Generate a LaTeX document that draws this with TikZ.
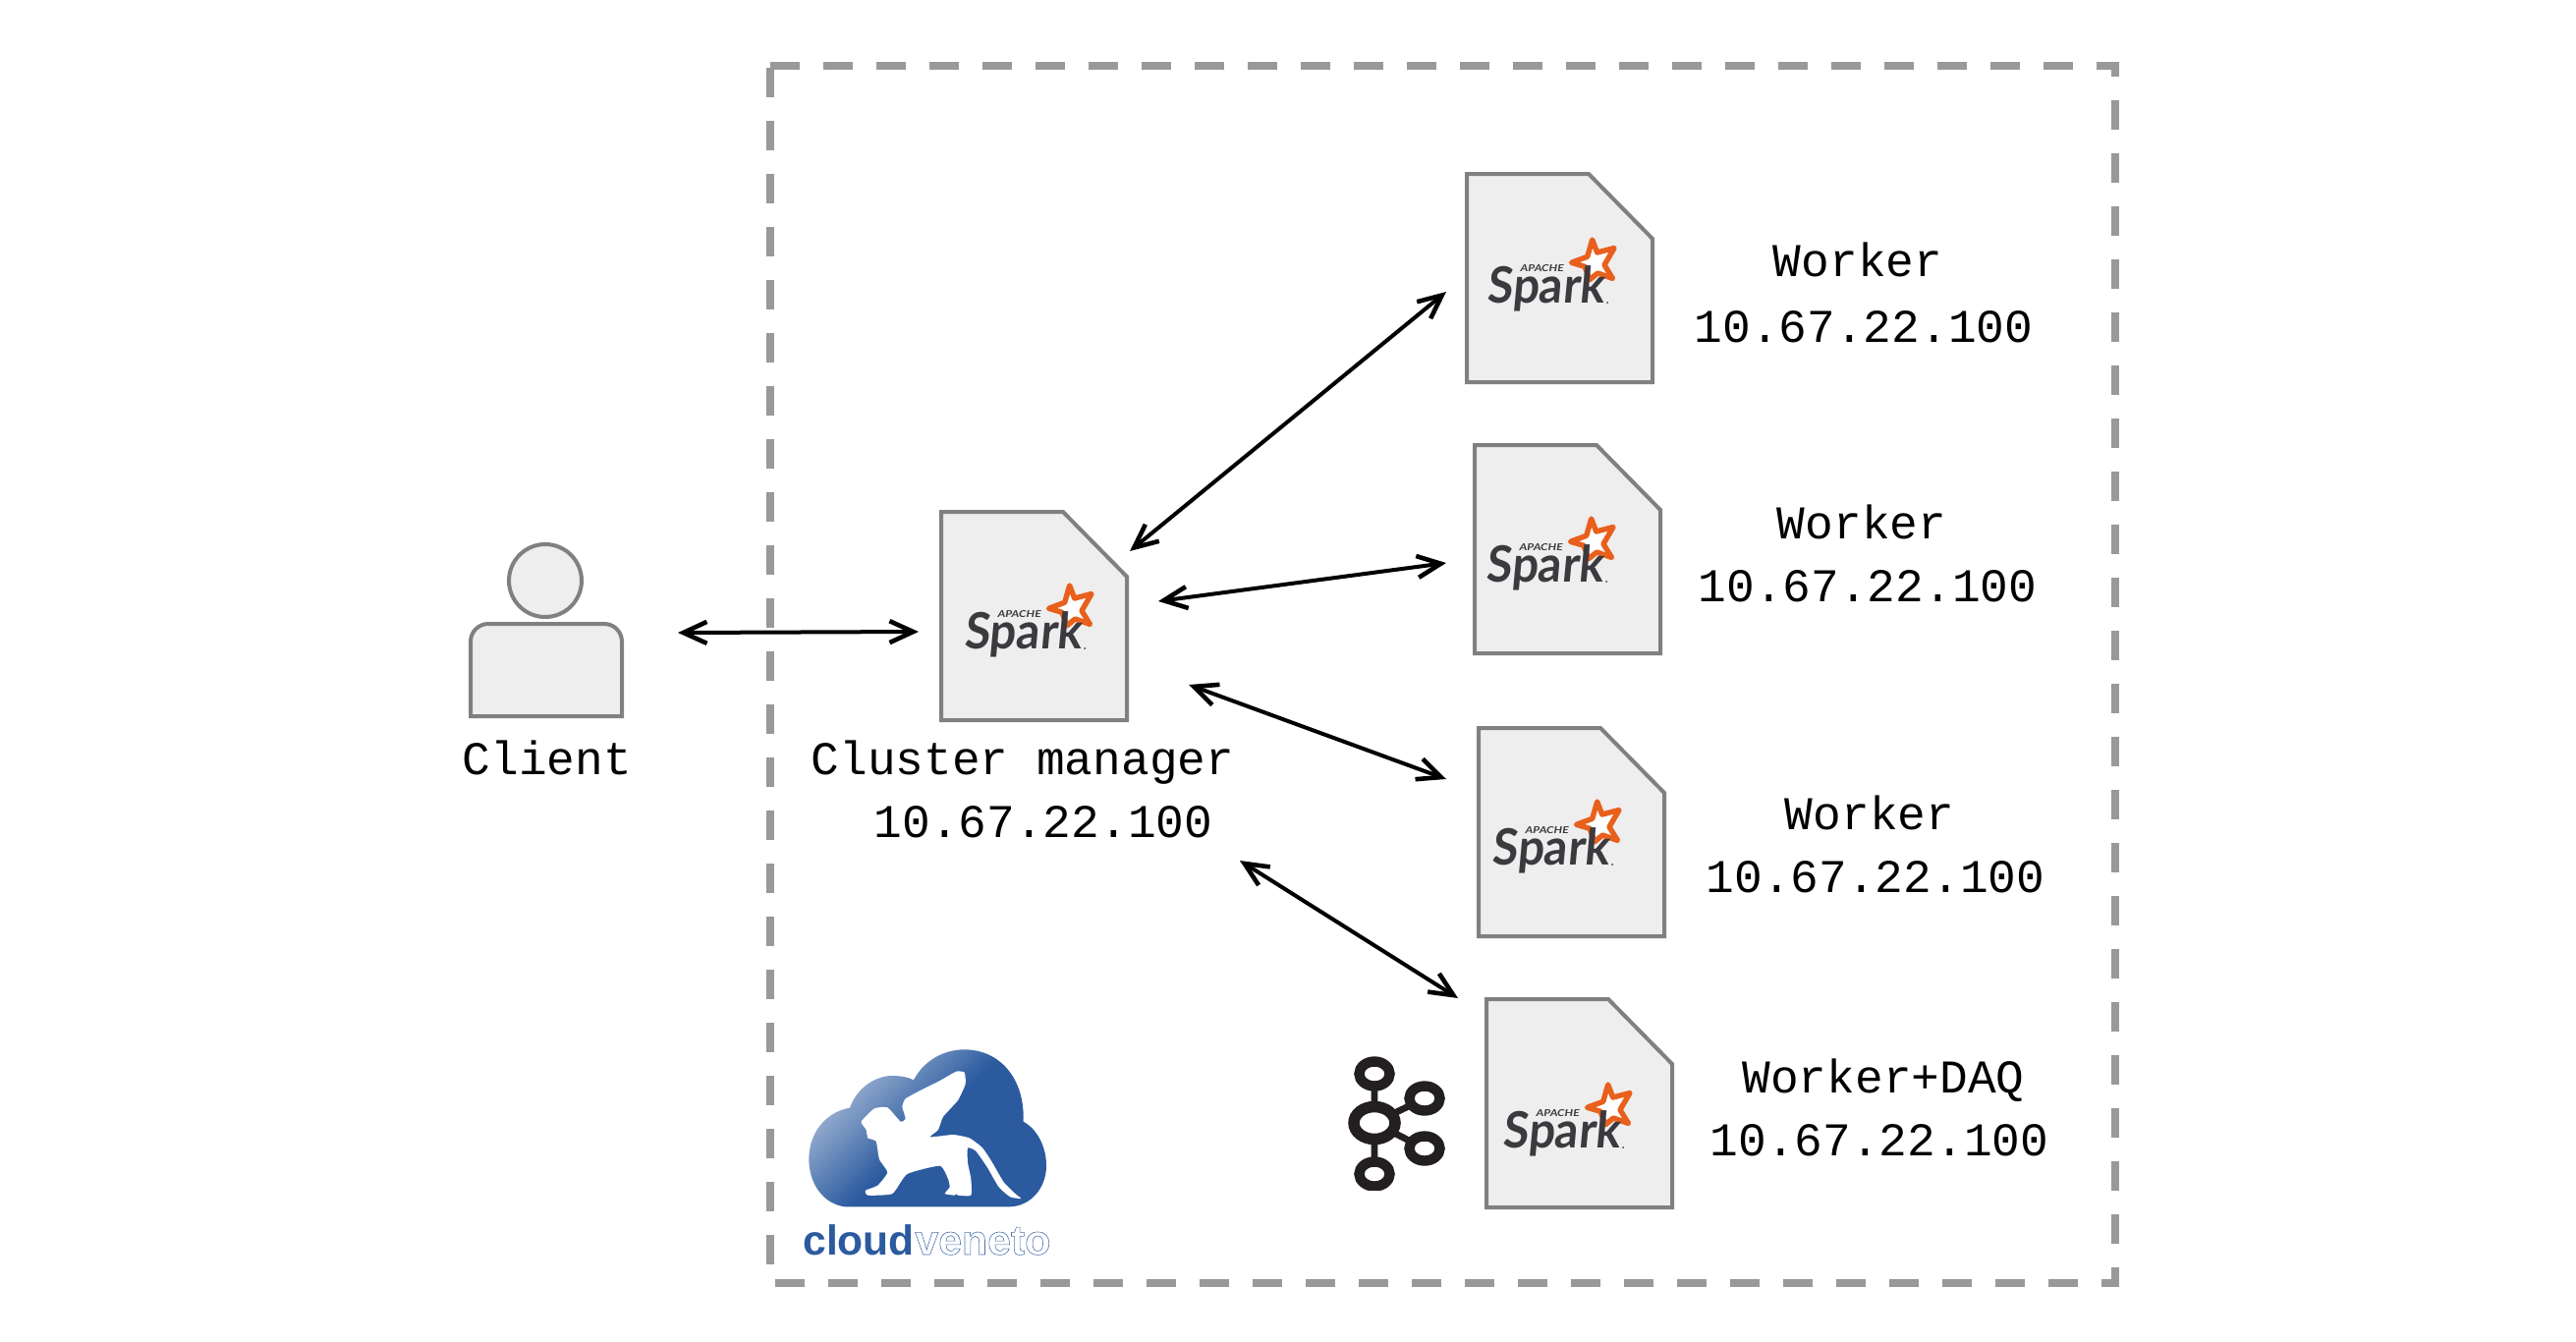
\documentclass[tikz,border=0pt]{standalone}
\usepackage{fontspec}
\setmonofont{Liberation Mono}
\newfontfamily\logofont{Lato}
\newfontfamily\cvfont{Liberation Sans}
\usetikzlibrary{arrows.meta}
\definecolor{boxgray}{HTML}{808080}
\definecolor{boxfill}{HTML}{EEEEEE}
\definecolor{dashgray}{HTML}{999999}
\definecolor{sparkink}{HTML}{3C3A3E}
\definecolor{sparkorange}{HTML}{E8601C}
\definecolor{cvblue}{HTML}{2B5A9F}
\definecolor{cvlight}{HTML}{8FA8CC}
\definecolor{kafkaink}{HTML}{231F20}
\pgfdeclarehorizontalshading{cvshade}{100bp}{color(0bp)=(cvlight); color(30bp)=(cvlight); color(50bp)=(cvblue); color(100bp)=(cvblue)}
\tikzset{
  notebox/.style={draw=boxgray,fill=boxfill,line width=2pt,miter limit=10},
  lbl/.style={font=\ttfamily\fontsize{23.9pt}{28pt}\selectfont,anchor=base,inner sep=0pt,text=black},
  link/.style={line width=2pt,black,{Straight Barb[length=12pt,width=11pt,line width=2.3pt]}-{Straight Barb[length=12pt,width=11pt,line width=2.3pt]}},
  sparkword/.style={font=\logofont\bfseries\fontsize{25.5pt}{25pt}\selectfont,text=sparkink,anchor=base west,inner sep=0pt,xscale=.93,xslant=.1},
  apacheword/.style={font=\logofont\bfseries\itshape\fontsize{4.8pt}{5pt}\selectfont,text=sparkink,anchor=base west,inner sep=0pt,xscale=1.25},
  ring/.style={draw=kafkaink,line width=5.2pt},
}
\newcommand{\sparkbox}[5]{%
  \begin{scope}[shift={(#2,#3)}]
    \path[notebox] (0,0) -- (124,0) -- (189,66) -- (189,212) -- (0,212) -- cycle;
    \begin{scope}[shift={(#4,#5)}]
      \draw[sparkorange,line width=2.7pt,line join=round,fill=white]
        (130.7,75) -- (135.7,88) -- (153,83.5) -- (143,100.7) -- (151.5,114.5) -- (136.3,109) -- (128,115.7) -- (123,102.3) -- (109.5,98.3) -- (125.7,92.3) -- cycle;
      \node[sparkword] (#1) at (23,139) {Spark};
      \node[apacheword] (#1a) at (57,107) {APACHE};
      \fill[sparkink] (146,139) circle (1);
    \end{scope}
  \end{scope}}
\begin{document}
\begin{tikzpicture}[x=0.5pt,y=-0.5pt]
\useasboundingbox (0,0) rectangle (2622,1365);
\draw[dashgray,line width=4pt,dash pattern=on 15pt off 12pt] (784,67) -- (2153,67) -- (2153,1306) -- (784,1306) -- cycle;

% client
\path[notebox] (555,591) circle (37);
\path[notebox,rounded corners=9pt] (479,729) [sharp corners] -- (479,729) [rounded corners=9pt] -- (479,635) -- (633,635) [sharp corners] -- (633,729) -- cycle;
\node[lbl] (client) at (557,788) {Client};

% spark boxes
\sparkbox{mgr}{958}{521}{0}{0}
\sparkbox{wa}{1493}{177}{-3}{-8}
\sparkbox{wb}{1501}{453}{-12}{0}
\sparkbox{wc}{1505}{741}{-10}{0}
\sparkbox{wd}{1513}{1017}{-7}{12}

% labels
\node[lbl] (mgrt) at (1041,788) {Cluster manager};
\node[lbl] (mgrip) at (1062,852) {10.67.22.100};
\node[lbl] (wat) at (1891,281) {Worker};
\node[lbl] (waip) at (1897,348) {10.67.22.100};
\node[lbl] (wbt) at (1895,548) {Worker};
\node[lbl] (wbip) at (1901,612) {10.67.22.100};
\node[lbl] (wct) at (1903,844) {Worker};
\node[lbl] (wcip) at (1909,908) {10.67.22.100};
\node[lbl] (wdt) at (1917,1112) {Worker+DAQ};
\node[lbl] (wdip) at (1913,1176) {10.67.22.100};

% connectors
\coordinate (c0a) at (690,644); \coordinate (c0b) at (935,643);
\coordinate (c1a) at (1150,561); \coordinate (c1b) at (1472,297);
\coordinate (c2a) at (1179,612); \coordinate (c2b) at (1472,573);
\coordinate (c3a) at (1210,697); \coordinate (c3b) at (1472,793);
\coordinate (c4a) at (1262,876); \coordinate (c4b) at (1484,1016);
\draw[link] (c0a) -- (c0b);
\draw[link] (c1a) -- (c1b);
\draw[link] (c2a) -- (c2b);
\draw[link] (c3a) -- (c3b);
\draw[link] (c4a) -- (c4b);

% kafka
\draw[kafkaink,line width=3.4pt] (1399,1093) -- (1399,1195) (1399,1143) -- (1450,1118) (1399,1143) -- (1450,1169);
\begin{scope}
\clip (1360,1060) rectangle (1480,1211);
\foreach \px/\py in {1399/1093,1450/1118,1450/1169,1399/1195}{
  \path[ring,fill=white] (\px,\py) ellipse [x radius=15.5,y radius=12.5];
}
\end{scope}
\path[ring,fill=white,line width=5.75pt] (1399,1143) ellipse [x radius=21,y radius=16.5];

% cloudveneto
\begin{scope}[shift={(780,1040)},scale=1/3]
  \path[shading=cvshade,shading angle=-45]
    (240,565) .. controls (170,555) and (130,490) .. (130,420)
    .. controls (130,335) and (185,275) .. (255,263)
    .. controls (275,205) and (330,165) .. (385,165)
    .. controls (410,165) and (435,170) .. (450,178)
    .. controls (480,120) and (540,85) .. (605,85)
    .. controls (710,85) and (790,170) .. (785,305)
    .. controls (830,330) and (855,385) .. (855,440)
    .. controls (855,510) and (805,565) .. (740,565) -- cycle;
  \fill[white] plot[smooth cycle,tension=.3] coordinates {
    (290,305) (330,265) (370,262) (410,305) (425,295) (415,260) (425,235) (470,210) (530,180) (580,152) (605,155) (608,190) (585,240) (540,290) (525,330) (500,352) (570,345) (620,355) (660,385) (690,430) (725,490) (760,525) (778,540) (745,535) (710,505) (675,445) (640,395) (615,385) (615,430) (625,480) (625,530) (585,530) (580,525) (575,530) (545,525) (560,505) (555,480) (530,440) (430,465) (385,525) (310,530) (303,515) (340,500) (370,460) (345,420) (335,365) (310,355) (305,330)};
\end{scope}
\node[anchor=base west,inner sep=0pt,font=\cvfont\bfseries\fontsize{21.3pt}{21pt}\selectfont,text=cvblue] (cloud) at (817,1277) {cloud};
\node[anchor=base west,inner sep=0pt,font=\cvfont\bfseries\fontsize{21.4pt}{21pt}\selectfont] (veneto) at (931,1277) {\color{cvblue!85!white}\special{pdf:code 1 Tr 0.3 w}veneto\special{pdf:code 0 Tr}};
\end{tikzpicture}
\end{document}
